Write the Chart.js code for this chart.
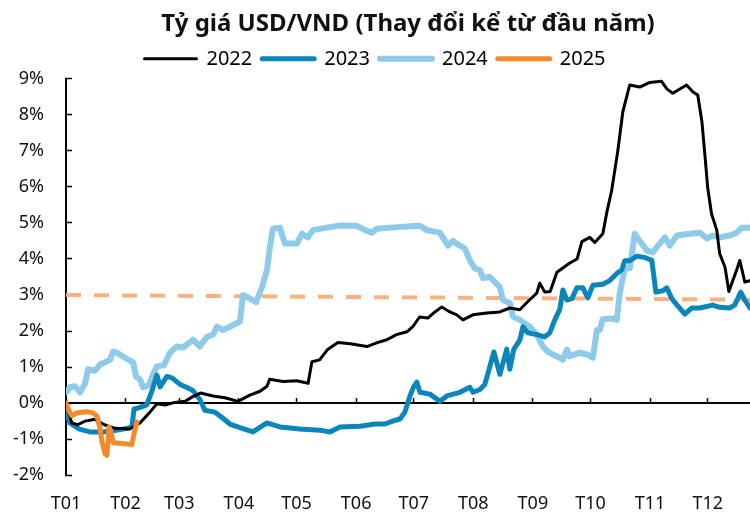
<!DOCTYPE html>
<html>
<head>
<meta charset="utf-8">
<script src="https://cdn.jsdelivr.net/npm/chart.js@4.4.1/dist/chart.umd.min.js"></script>
<style>
  html, body { margin: 0; padding: 0; background: #fff; }
  #wrap { width: 750px; height: 514px; }
</style>
</head>
<body>
<div id="wrap"><canvas id="fxChart" width="750" height="514"></canvas></div>
<script>
// x = days since 1 Jan, y = % change of USD/VND since start of year
const monthStarts = [0, 31, 59, 90, 120, 151, 181, 212, 243, 273, 304, 334];
const monthLabels = ['T01', 'T02', 'T03', 'T04', 'T05', 'T06', 'T07', 'T08', 'T09', 'T10', 'T11', 'T12'];

const days2022 = [0, 3, 6, 10, 15, 20, 25.5, 33, 38.5, 43.7, 47.3, 51.5, 56.7, 62, 66, 70, 76.5, 82.7, 89.5, 95.7,
  101, 104.6, 106, 113, 120, 126, 128, 132, 136, 141.5, 148, 156.6, 162, 167, 172, 177.4, 180.5, 184, 188.3, 192,
  195.6, 199.8, 203.4, 206.6, 211.8, 219, 225.8, 231, 236.2, 240, 245, 246.6, 249.2, 252, 255.5, 262, 266, 268.5, 272.6, 275.2,
  279.4, 281.5, 284, 287.2, 289.8, 293.4, 298.6, 303.8, 310, 312.7, 315.8, 323, 326.2, 328.8, 331, 332.5, 334, 336, 338.7, 340.2,
  343, 345, 349, 350.7, 353.3, 356];
const pct2022 = [0, -0.55, -0.6, -0.5, -0.45, -0.6, -0.7, -0.72, -0.55, -0.25, -0.02, -0.05, 0.02, 0.05, 0.18, 0.28, 0.2, 0.15, 0.05, 0.22,
  0.33, 0.47, 0.66, 0.6, 0.62, 0.55, 1.15, 1.2, 1.48, 1.68, 1.65, 1.57, 1.68, 1.76, 1.9, 1.98, 2.12, 2.39, 2.36, 2.53,
  2.67, 2.53, 2.45, 2.31, 2.45, 2.5, 2.53, 2.64, 2.59, 2.8, 3.05, 3.33, 3.08, 3.1, 3.63, 3.88, 4.0, 4.48, 4.6, 4.46,
  4.7, 5.3, 5.9, 7.0, 8.08, 8.83, 8.77, 8.9, 8.93, 8.72, 8.6, 8.83, 8.64, 8.55, 7.8, 6.9, 5.97, 5.25, 4.8, 4.15,
  3.77, 3.1, 3.69, 3.96, 3.36, 3.4];

const days2023 = [0, 2, 7, 12.5, 19, 24.5, 31.7, 34.3, 35.4, 38.5, 42, 44.7, 47.3, 49, 52.5, 55.2, 59.3, 63.5, 66, 69.7,
  72.3, 77.5, 81.2, 85.3, 90.5, 97.3, 104.6, 111.3, 121.7, 132.2, 137.4, 142.6, 153, 160.8, 166, 170, 173.8, 176.4, 179, 181.1,
  182.6, 184.2, 189.4, 194.6, 198.2, 205, 210.2, 211.8, 215.4, 218, 220, 222.7, 225.8, 229.4, 231, 233.1, 236.2, 237.8, 240.4, 245.1,
  249.2, 251.8, 254.4, 257, 258.6, 260.7, 263.3, 265.9, 269, 271.6, 274.2, 279.4, 283, 286.7, 289.3, 290.8, 293.4, 297.1, 301.2, 304.9,
  307, 310.6, 312.7, 315.3, 318.4, 322.1, 325.7, 329.9, 336.6, 340.2, 345.4, 348, 351.2, 353.3, 356];
const pct2023 = [-0.25, -0.55, -0.72, -0.8, -0.8, -0.77, -0.7, -0.66, -0.17, -0.12, -0.05, 0.33, 0.78, 0.45, 0.74, 0.7, 0.52, 0.42, 0.35, 0.1,
  -0.2, -0.25, -0.4, -0.58, -0.68, -0.8, -0.55, -0.66, -0.72, -0.75, -0.8, -0.66, -0.64, -0.58, -0.58, -0.5, -0.44, -0.25, 0.2, 0.47,
  0.58, 0.3, 0.25, 0.05, 0.2, 0.3, 0.44, 0.3, 0.38, 0.52, 0.9, 1.42, 0.8, 1.5, 0.94, 1.5, 1.75, 2.12, 1.95, 1.9,
  1.84, 1.95, 2.31, 2.6, 3.14, 2.86, 2.9, 3.2, 3.2, 2.92, 3.27, 3.3, 3.4, 3.6, 3.7, 3.95, 3.95, 4.08, 4.04, 3.96,
  3.08, 3.12, 3.2, 2.9, 2.7, 2.47, 2.64, 2.64, 2.72, 2.66, 2.64, 2.72, 3.08, 2.86, 2.64];

const days2024 = [0, 2, 4.7, 7.3, 10, 11.4, 15, 17.7, 22.9, 24.5, 26.5, 30.7, 34.9, 36.4, 38.5, 40.1, 43.2, 45.3, 47.3, 51,
  54.1, 57.8, 60.9, 66.1, 69.7, 73.4, 76.5, 78.6, 81.7, 85.3, 90.5, 92.1, 95.7, 98.9, 102, 104.6, 106.1, 107.7, 111.3, 113.9,
  120.2, 122.8, 125.9, 128.5, 135.8, 142.6, 151.4, 155.6, 159.2, 161.8, 168.6, 177.4, 184.2, 187.8, 194.6, 198.8, 201.4, 205, 207.6, 210.2,
  212.8, 215.4, 217, 220.6, 225.8, 227.4, 231, 232.6, 236.2, 241.4, 245.1, 248.2, 250.8, 253.4, 257, 258.6, 260.7, 262.2, 267.4, 271.1,
  274.2, 276.3, 277.8, 279.4, 284.1, 286.7, 288.2, 290.8, 293.4, 296, 298.6, 302.3, 305.4, 309, 311.7, 314.3, 317.9, 324.7, 329.9, 333.5,
  336.6, 340.2, 345.4, 349.1, 351.7, 356];
const pct2024 = [0.3, 0.44, 0.47, 0.3, 0.55, 0.94, 0.9, 1.07, 1.2, 1.43, 1.4, 1.26, 1.13, 0.74, 0.66, 0.44, 0.5, 0.8, 1.02, 1.05,
  1.4, 1.57, 1.54, 1.76, 1.57, 1.84, 1.9, 2.12, 2.03, 2.12, 2.26, 3.0, 2.9, 2.8, 3.22, 3.69, 4.32, 4.84, 4.87, 4.43,
  4.43, 4.7, 4.6, 4.8, 4.87, 4.93, 4.92, 4.8, 4.73, 4.84, 4.87, 4.9, 4.92, 4.8, 4.73, 4.37, 4.5, 4.37, 4.29, 3.96,
  3.74, 3.69, 3.47, 3.5, 3.22, 2.86, 2.78, 2.4, 2.31, 2.12, 1.9, 1.57, 1.43, 1.35, 1.26, 1.2, 1.48, 1.3, 1.4, 1.35,
  1.26, 2.03, 2.03, 2.33, 2.35, 2.31, 3.05, 3.74, 3.74, 4.7, 4.5, 4.24, 4.18, 4.43, 4.6, 4.37, 4.65, 4.7, 4.73, 4.57,
  4.65, 4.6, 4.65, 4.73, 4.87, 4.87];

const days2025 = [0, 1, 3, 5.7, 10.9, 14, 16.1, 17.7, 18.7, 20.3, 21.3, 22.4, 23.4, 24.5, 29.1, 34.3, 35.4, 36.9];
const pct2025 = [0, -0.15, -0.35, -0.27, -0.24, -0.27, -0.36, -0.7, -1.07, -1.4, -1.45, -0.66, -0.78, -1.1, -1.12, -1.15, -0.85, -0.52];

// dashed reference line
const refDays = [0, 356];
const refPct = [3.0, 2.87];

const FONT = "'Noto Sans', 'Open Sans', sans-serif";
const toPoints = (xs, ys) => xs.map((x, i) => ({ x: x, y: ys[i] }));

const series = (label, xs, ys, color, width, order) => ({
    label: label,
    data: toPoints(xs, ys),
    borderColor: color,
    backgroundColor: color,
    borderWidth: width,
    borderCapStyle: 'round',
    borderJoinStyle: 'round',
    pointRadius: 0,
    tension: 0,
    order: order
});

const setMonthTicks = scale => {
    scale.ticks = monthStarts.map(v => ({ value: v }));
};

const ctx = document.getElementById('fxChart').getContext('2d');

new Chart(ctx, {
    type: 'line',
    data: {
        datasets: [
            series('2022', days2022, pct2022, '#000000', 3, 1),
            series('2023', days2023, pct2023, '#0a86bb', 5, 2),
            series('2024', days2024, pct2024, '#8ecae9', 6, 3),
            series('2025', days2025, pct2025, '#f58a2b', 5, 0),
            Object.assign(series('ref', refDays, refPct, '#f9b27d', 4, 4), {
                borderDash: [15, 13],
                borderCapStyle: 'butt'
            })
        ]
    },
    options: {
        responsive: false,
        animation: false,
        devicePixelRatio: 1,
        layout: { padding: 0 },
        plugins: {
            title: {
                display: true,
                text: 'Tỷ giá USD/VND (Thay đổi kể từ đầu năm)',
                color: '#111',
                font: { family: FONT, size: 24, weight: 'bold' },
                padding: { top: 10, bottom: 0 },
                fullSize: false
            },
            legend: {
                display: true,
                labels: {
                    color: '#111',
                    font: { family: FONT, size: 20 },
                    usePointStyle: true,
                    pointStyleWidth: 52,
                    padding: 10,
                    generateLabels: chart => chart.data.datasets
                        .map((ds, i) => ({
                            text: ds.label,
                            strokeStyle: ds.borderColor,
                            fillStyle: ds.borderColor,
                            lineWidth: ds.borderWidth,
                            lineCap: 'round',
                            pointStyle: 'line',
                            hidden: false,
                            datasetIndex: i
                        }))
                        .filter(item => item.text !== 'ref')
                }
            },
            tooltip: { enabled: false }
        },
        scales: {
            x: {
                type: 'linear',
                position: 'bottom',
                min: 0,
                max: 356,
                afterBuildTicks: setMonthTicks,
                afterFit: s => { s.height = 37; },
                border: { display: false },
                grid: { display: false },
                ticks: {
                    autoSkip: false,
                    maxRotation: 0,
                    padding: 10,
                    color: '#111',
                    font: { family: FONT, size: 18 },
                    callback: (v, i) => monthLabels[i]
                }
            },
            xZero: {
                type: 'linear',
                axis: 'x',
                position: { y: 0 },
                min: 0,
                max: 356,
                afterBuildTicks: setMonthTicks,
                border: { display: true, color: '#000', width: 2 },
                grid: {
                    drawOnChartArea: false,
                    drawTicks: true,
                    tickLength: -6,
                    tickColor: '#000',
                    tickWidth: 1.5
                },
                ticks: { display: false }
            },
            y: {
                min: -2,
                max: 9,
                afterFit: s => { s.width = 66; },
                border: { display: true, color: '#000', width: 2 },
                grid: {
                    drawOnChartArea: false,
                    drawTicks: true,
                    tickLength: -6,
                    tickColor: '#000',
                    tickWidth: 1.5
                },
                ticks: {
                    stepSize: 1,
                    padding: 28,
                    color: '#111',
                    font: { family: FONT, size: 18 },
                    callback: v => v + '%'
                }
            }
        }
    }
});
</script>
</body>
</html>
